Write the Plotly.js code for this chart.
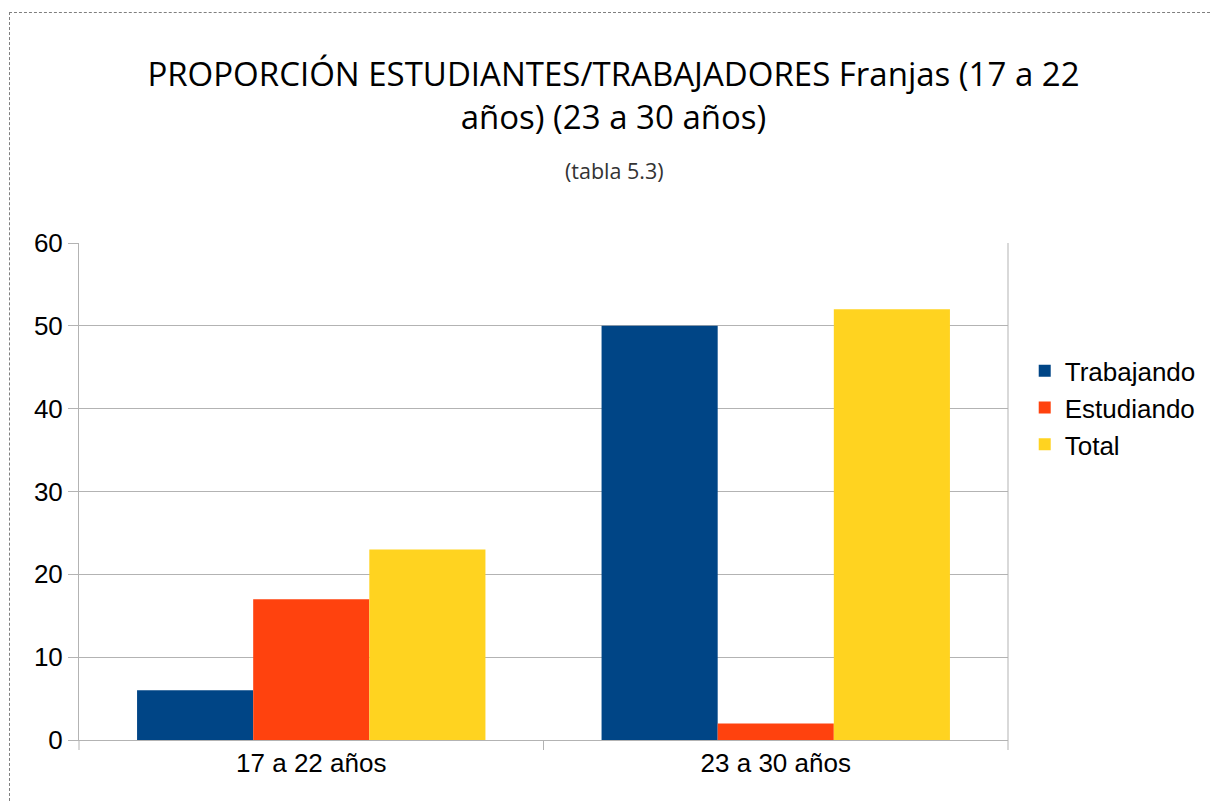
<!DOCTYPE html>
<html>
<head>
<meta charset="utf-8">
<script src="https://cdn.plot.ly/plotly-3.0.1.min.js"></script>
<style>
html,body{margin:0;padding:0;background:#fff;}
#chart{position:absolute;left:0;top:0;width:1210px;height:803px;}
#frame{position:absolute;left:9px;top:12px;width:1210px;height:803px;border-top:1px dashed #7f7f7f;border-left:1px dashed #7f7f7f;pointer-events:none;}
</style>
</head>
<body>
<div id="chart"></div>
<div id="frame"></div>
<script>
var categories = ["17 a 22 años", "23 a 30 años"];
var trabajando = [6, 50];
var estudiando = [17, 2];
var total = [23, 52];
var seriesNames = ["Trabajando", "Estudiando", "Total"];
var yTicks = [0, 10, 20, 30, 40, 50, 60];

var colors = ["#004586", "#ff420e", "#ffd320"];
var data = [trabajando, estudiando, total].map(function(v, i){
  return {type:"bar", x:categories, y:v, name:seriesNames[i], marker:{color:colors[i]}, hoverinfo:"none"};
});

var layout = {
  width:1210, height:803,
  paper_bgcolor:"#fff", plot_bgcolor:"#fff",
  margin:{l:79, r:202, t:243, b:63, autoexpand:false},
  barmode:"group", bargap:0.25, bargroupgap:0,
  font:{family:"Liberation Sans, Arial, sans-serif", size:26, color:"#000"},
  title:{text:"PROPORCIÓN ESTUDIANTES/TRABAJADORES Franjas (17 a 22<br>años) (23 a 30 años)",
         font:{family:"Open Sans, sans-serif", size:33, color:"#000"},
         x:0.507, xanchor:"center", y:0.893, yanchor:"top"},
  annotations:[{text:"(tabla 5.3)", xref:"paper", yref:"paper", x:0.576, y:1.0,
    xanchor:"center", yanchor:"middle", showarrow:false, yshift:73,
    font:{family:"Open Sans, sans-serif", size:21.5, color:"#333"}}],
  xaxis:{showgrid:false, showline:true, linecolor:"#b3b3b3", linewidth:1,
         ticks:"", tickfont:{size:26}, mirror:false},
  yaxis:{range:[0,60], tickvals:yTicks, showgrid:true, gridcolor:"#b3b3b3", gridwidth:1,
         showline:true, linecolor:"#b3b3b3", linewidth:1, ticks:"outside", ticklen:10,
         tickcolor:"#b3b3b3", tickfont:{size:26}, zeroline:false},
  legend:{x:0.018, y:0.79, xanchor:"left", yanchor:"top", font:{size:26}, tracegroupgap:0,
          itemwidth:30},
  shapes:[
    {type:"line", xref:"paper", yref:"paper", x0:1, x1:1, y0:0, y1:1, line:{color:"#b3b3b3", width:1}}
  ]
};
layout.legend.x = 1.018;
[0, 0.5, 1].forEach(function(px){
  layout.shapes.push({type:"line", xref:"paper", yref:"paper", x0:px, x1:px, y0:0, y1:-10/497, line:{color:"#b3b3b3", width:1}});
});

Plotly.newPlot("chart", data, layout, {displayModeBar:false, staticPlot:true});
</script>
</body>
</html>
